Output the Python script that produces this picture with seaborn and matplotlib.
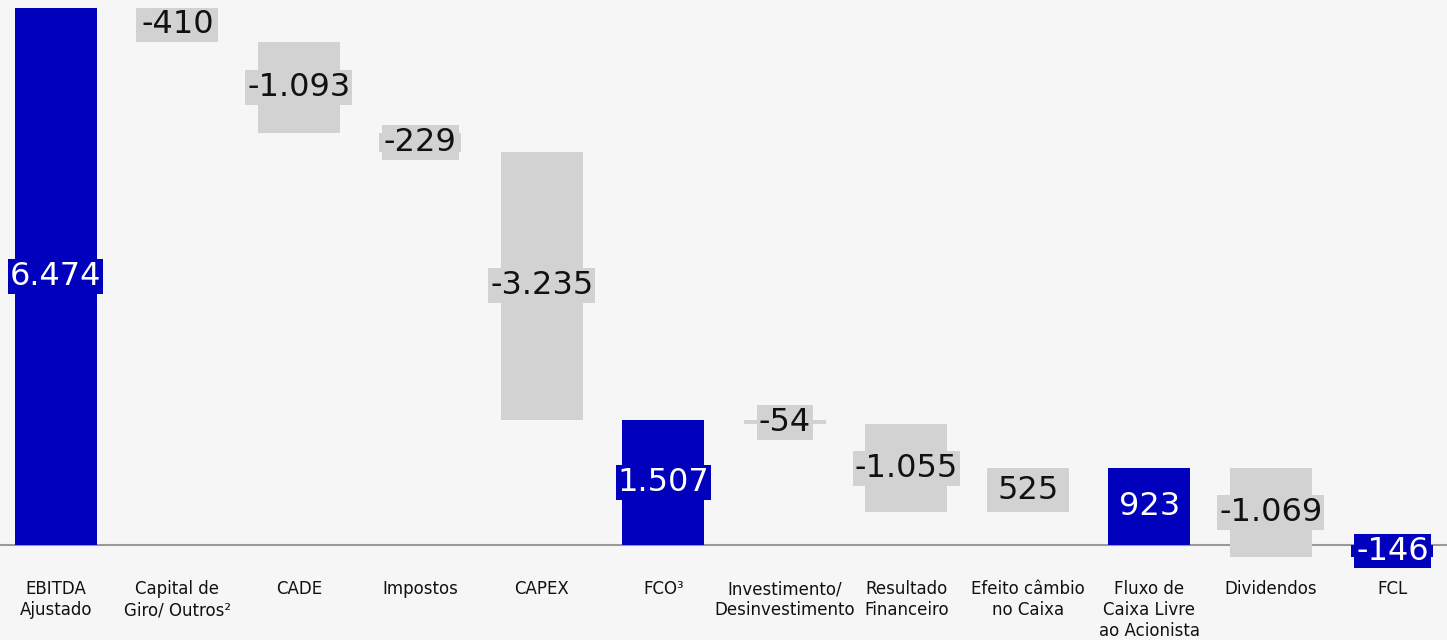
import numpy as np
import pandas as pd
import matplotlib
matplotlib.use("Agg")
import matplotlib.pyplot as plt
import seaborn as sns

# Waterfall values (R$ mm)
categories = ["EBITDA\nAjustado", "Capital de\nGiro/ Outros²", "CADE", "Impostos", "CAPEX",
              "FCO³", "Investimento/\nDesinvestimento", "Resultado\nFinanceiro",
              "Efeito câmbio\nno Caixa", "Fluxo de\nCaixa Livre\nao Acionista", "Dividendos", "FCL"]
values = [6474, -410, -1093, -229, -3235, 1507, -54, -1055, 525, 923, -1069, -146]
is_total = [True, False, False, False, False, True, False, False, False, True, False, True]
labels = ["6.474", "-410", "-1.093", "-229", "-3.235", "1.507", "-54", "-1.055", "525", "923", "-1.069", "-146"]

BLUE = "#0000BD"
GREY = "#D2D2D2"
BG = "#F6F6F6"

# bottoms of each bar: totals start at zero, steps from running total
bottoms = []
running = 0
for v, tot in zip(values, is_total):
    if tot:
        bottoms.append(0)
        running = v
    else:
        bottoms.append(running)
        running += v

df = pd.DataFrame({"cat": categories, "val": values, "bottom": bottoms})

sns.set_style("white")
plt.rcParams["font.family"] = ["DejaVu Sans"]

fig = plt.figure(figsize=(14.47, 6.4), dpi=100, facecolor=BG)
ax = fig.add_axes([0, 1 - 565 / 640, 1, 565 / 640])
ax.set_facecolor(BG)

sns.barplot(data=df, x="cat", y="val", order=categories, bottom=df["bottom"].values,
            color=GREY, width=0.675, errorbar=None, saturation=1, ax=ax)

for patch, tot in zip(ax.patches, is_total):
    patch.set_facecolor(BLUE if tot else GREY)
    patch.set_edgecolor("none")

# value labels in the middle of each bar
for i, (v, b, tot, lab) in enumerate(zip(values, bottoms, is_total, labels)):
    ax.text(i, b + v / 2, lab, ha="center", va="center", fontsize=23,
            color="white" if tot else "#111111",
            bbox=dict(boxstyle="square,pad=0.06", facecolor=BLUE if tot else GREY, edgecolor="none"))

ax.axhline(0, color="#9A9A9A", lw=1.5, zorder=0.5)
ax.set_xlim(-0.46, 11.45)
ax.set_ylim(-241, 6570)
ax.set_xlabel("")
ax.set_ylabel("")
ax.set_yticks([])
ax.tick_params(axis="x", length=0, pad=11, labelsize=12, labelcolor="#111111")
sns.despine(ax=ax, left=True, bottom=True)

fig.savefig("out.png", dpi=100, facecolor=BG)
